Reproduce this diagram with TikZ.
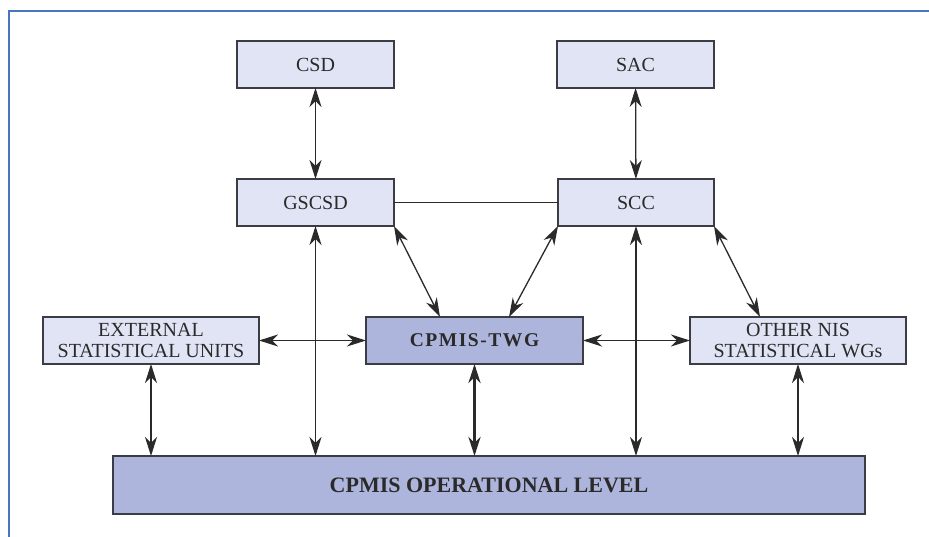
\documentclass[tikz,border=0pt]{standalone}
\usepackage{fontspec}
\setmainfont{Liberation Serif}
\usetikzlibrary{arrows.meta}
\definecolor{boxlight}{HTML}{E0E4F4}
\definecolor{boxdark}{HTML}{ADB5DC}
\definecolor{framecol}{HTML}{4677BF}
\definecolor{edgecol}{HTML}{3C3C44}
\definecolor{textcol}{HTML}{2A2A2A}
\begin{document}
\begin{tikzpicture}[x=1pt,y=1pt,
		unit/.style={draw=edgecol,line width=1.3pt,fill=boxlight,minimum width=157pt,minimum height=47pt,inner sep=0pt,outer sep=0pt,align=center,text=textcol,font=\fontsize{20}{21}\selectfont},
		wideunit/.style={unit,minimum width=216pt},
		core/.style={unit,fill=boxdark,minimum width=217pt,font=\fontsize{19.5}{21}\selectfont\bfseries\addfontfeature{LetterSpace=8}},
		link/.style={{Stealth[length=19pt,width=12pt,inset=6pt]}-{Stealth[length=19pt,width=12pt,inset=6pt]},line width=1.3pt,textcol},
		thicklink/.style={link,line width=3.8pt}]
			\useasboundingbox (0,0) rectangle (929,537);
			\draw [framecol,line width=2.2pt] (9,0) -- (9,526) -- (929,526);
			\node[unit] (csd) at (315.5,472.5) {CSD};
			\node[unit] (sac) at (635.5,472.5) {SAC};
			\node[unit] (gscsd) at (315.5,334.5) {GSCSD};
			\node[unit,minimum width=156pt] (scc) at (636,334.5) {SCC};
			\node[wideunit] (ext) at (151,196.5) {EXTERNAL\\STATISTICAL UNITS};
			\node[core] (twg) at (474.5,196.5) {CPMIS-TWG};
			\node[wideunit] (nis) at (798,196.5) {OTHER NIS\\STATISTICAL WGs};
			\node[unit,fill=boxdark,minimum width=752pt,minimum height=58pt,font=\fontsize{22}{24}\selectfont\bfseries] (opl) at (489,52) {CPMIS OPERATIONAL LEVEL};
			\draw [link] (csd) -- (gscsd);
			\draw [link] (sac) -- (scc);
			\draw [line width=1.3pt,textcol] (gscsd) -- (scc);
			\draw [link] (gscsd.south) -- (gscsd.south |- opl.north);
			\draw [link] (scc.south) -- (scc.south |- opl.north);
			\draw [link] (gscsd.south east) -- ([xshift=-34.5pt]twg.north);
			\draw [link] (scc.south west) -- ([xshift=34.5pt]twg.north);
			\draw [link] (scc.south east) -- ([xshift=-38pt]nis.north);
			\draw [link] (ext) -- (twg);
			\draw [link] (twg) -- (nis);
			\draw [link] (ext.south) -- (ext.south |- opl.north);
			\draw [thicklink] (twg.south) -- (twg.south |- opl.north);
			\draw [link] (nis.south) -- (nis.south |- opl.north);
		\end{tikzpicture}
\end{document}
